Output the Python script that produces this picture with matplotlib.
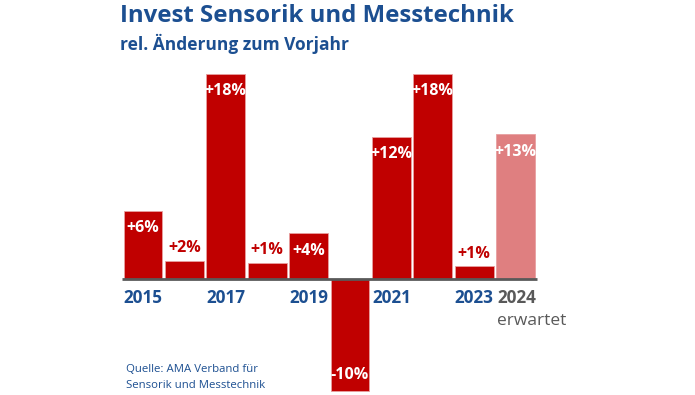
import matplotlib
matplotlib.use("Agg")
import matplotlib.pyplot as plt

years = ["2015", "2016", "2017", "2018", "2019", "2020", "2021", "2022", "2023", "2024"]
changes = [6.0, 1.6, 18.0, 1.4, 4.0, -9.8, 12.5, 18.0, 1.1, 12.7]
labels = ["+6%", "+2%", "+18%", "+1%", "+4%", "-10%", "+12%", "+18%", "+1%", "+13%"]
shown_years = ["2015", "2017", "2019", "2021", "2023"]

RED = "#c00000"
PINK = "#df7f80"
BLUE = "#1c4f91"
GRAY = "#595959"
FONT = "Open Sans"

fig = plt.figure(figsize=(6.95, 3.95), dpi=100)
ax = fig.add_axes([0, 0, 1, 1])
ax.set_xlim(-143 / 41.4, (695 - 143) / 41.4)
ax.set_ylim(-116 / 11.4, 279 / 11.4)
ax.axis("off")

x = list(range(len(years)))
colors = [RED] * (len(years) - 1) + [PINK]
ax.bar(x, changes, width=0.94, color=colors, edgecolor="#e8a0a0", linewidth=0.6, zorder=2)
ax.plot([-0.51, 9.52], [0, 0], color=GRAY, lw=2, zorder=3, solid_capstyle="butt")

for i, (v, lab) in enumerate(zip(changes, labels)):
    if v >= 4:
        ax.text(i, v - 1.55, lab, ha="center", va="center", color="white",
                fontsize=11.5, fontweight="bold", family=FONT, zorder=4)
    elif v < 0:
        ax.text(i, v + 1.35, lab, ha="center", va="center", color="white",
                fontsize=11.5, fontweight="bold", family=FONT, zorder=4)
    else:
        ax.text(i, v + 1.1, lab, ha="center", va="center", color=RED,
                fontsize=11.5, fontweight="bold", family=FONT, zorder=4)

for i, y in enumerate(years):
    if y in shown_years:
        ax.text(i, -1.65, y, ha="center", va="center", color=BLUE,
                fontsize=12.3, fontweight="bold", family=FONT)
ax.text(9 - 0.45, -1.65, "2024", ha="left", va="center", color=GRAY,
        fontsize=12.3, fontweight="bold", family=FONT)
ax.text(9 - 0.45, -3.7, "erwartet", ha="left", va="center", color=GRAY,
        fontsize=12.5, family=FONT)

fig.text(120 / 695, 1 - 16 / 395, "Invest Sensorik und Messtechnik", ha="left", va="center",
         color=BLUE, fontsize=17.3, fontweight="bold", family=FONT)
fig.text(120 / 695, 1 - 44 / 395, "rel. Änderung zum Vorjahr", ha="left", va="center",
         color=BLUE, fontsize=12.5, fontweight="bold", family=FONT)
fig.text(126 / 695, 1 - 369 / 395, "Quelle: AMA Verband für", ha="left", va="center",
         color=BLUE, fontsize=8.2, family=FONT)
fig.text(126 / 695, 1 - 386 / 395, "Sensorik und Messtechnik", ha="left", va="center",
         color=BLUE, fontsize=8.2, family=FONT)

fig.savefig("out.png", dpi=100)
